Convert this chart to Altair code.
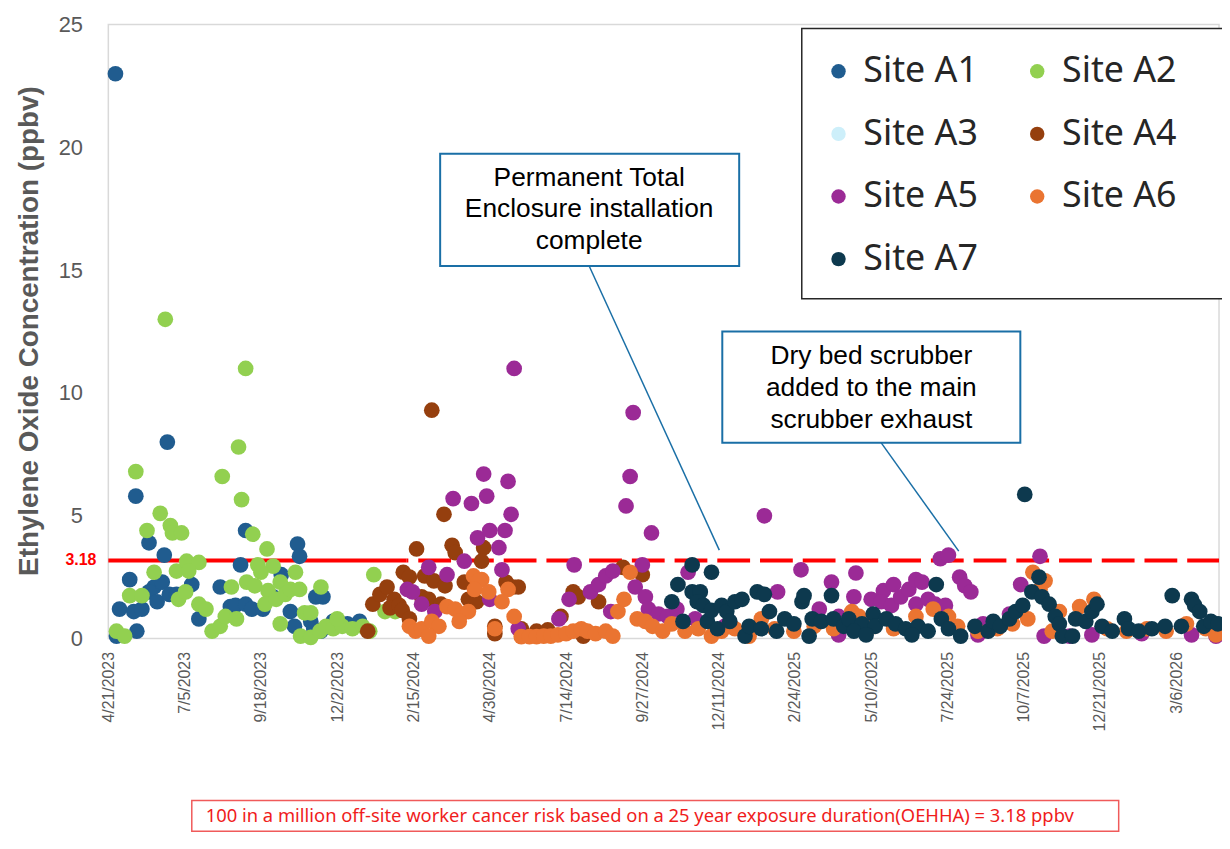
import altair as alt
import pandas as pd

# ---------------- data ----------------
start_date = "2023-04-21"
end_date = "2026-04-17"
solid_until = "2024-02-08"   # the red limit line is drawn solid up to here, dashed after
threshold = 3.18

tick_labels = ["4/21/2023", "7/5/2023", "9/18/2023", "12/2/2023", "2/15/2024",
               "4/30/2024", "7/14/2024", "9/27/2024", "12/11/2024", "2/24/2025",
               "5/10/2025", "7/24/2025", "10/7/2025", "12/21/2025", "3/6/2026"]

sites = ["Site A1", "Site A2", "Site A3", "Site A4", "Site A5", "Site A6", "Site A7"]
site_colors = ["#205C8F", "#92D050", "#CDEFFA", "#953F0E", "#9B2A96", "#EA7431", "#0D394E"]

a1_days = [7, 8, 11, 21, 25, 27, 28, 40, 45, 53, 40, 33, 48, 60, 67, 55, 58, 82, 89, 110,
           120, 125, 135, 130, 135, 141, 152, 162, 170, 179, 186, 188, 183, 199, 204, 209,
           211, 221, 235, 247, 202]
a1_vals = [23.0, 0.1, 1.2, 2.4, 1.1, 5.8, 0.3, 3.9, 2.1, 2.3, 1.9, 1.2, 1.5, 1.8, 1.8, 3.4,
           8.0, 2.2, 0.8, 2.1, 1.3, 1.35, 1.4, 3.0, 4.4, 1.2, 1.2, 1.7, 2.6, 1.1, 3.85, 3.35,
           0.5, 0.7, 1.7, 0.3, 1.7, 0.7, 0.6, 0.7, 0.4]

a2_days = [8, 16, 21, 33, 27, 38, 45, 51, 56, 61, 63, 72, 67, 77, 89, 79, 69, 76, 89, 96,
           102, 110, 115, 126, 112, 121, 128, 131, 135, 142, 156, 147, 162, 150, 136, 144,
           157, 169, 184, 154, 165, 174, 179, 188, 169, 193, 199, 189, 199, 208, 214, 209,
           221, 230, 240, 250, 261, 272, 282, 225, 257]
a2_vals = [0.3, 0.1, 1.75, 1.75, 6.8, 4.4, 2.7, 5.1, 13.0, 4.6, 4.3, 4.3, 2.75, 3.15, 3.1,
           2.75, 1.6, 1.9, 1.4, 1.2, 0.3, 0.5, 0.9, 0.8, 6.6, 2.1, 7.8, 5.66, 11.0, 4.25,
           3.65, 3.0, 2.95, 2.7, 2.3, 2.15, 1.95, 2.3, 2.7, 1.4, 1.6, 1.8, 2.0, 2.0, 0.6,
           1.05, 1.05, 0.1, 0.05, 0.3, 0.5, 2.1, 0.4, 0.5, 0.4, 0.5, 2.6, 1.1, 1.1, 0.8, 0.3]

a3_days = []
a3_vals = []

a4_days = [255, 260, 267, 274, 281, 277, 286, 289, 290, 296, 296, 303, 308, 315, 311, 318,
           320, 331, 330, 338, 341, 350, 354, 362, 369, 367, 380, 380, 391, 398, 403, 406,
           421, 432, 445, 457, 462, 467, 482, 506, 525, 327]
a4_vals = [0.3, 1.4, 1.8, 2.1, 1.6, 1.25, 1.35, 1.15, 2.7, 2.5, 0.8, 3.65, 1.7, 1.6, 2.55,
           9.3, 2.35, 2.15, 5.06, 3.8, 3.5, 2.3, 1.6, 1.5, 3.7, 3.15, 0.5, 0.2, 2.3, 2.1,
           2.1, 0.4, 0.3, 0.35, 0.9, 1.9, 1.7, 0.1, 1.5, 2.9, 2.6, 1.4]

a5_days = [294, 299, 308, 315, 321, 333, 339, 350, 357, 363, 369, 372, 375, 375, 384, 387,
           390, 393, 396, 399, 403, 443, 453, 458, 474, 482, 489, 496, 494, 509, 513, 516,
           518, 525, 528, 534, 531, 541, 550, 559, 570, 577, 606, 645, 658, 681, 699, 711,
           718, 733, 735, 750, 762, 772, 760, 770, 779, 787, 794, 794, 800, 806, 813, 818,
           826, 823, 837, 842, 848, 860, 886, 897, 916, 920, 945, 967, 1016, 1065, 1089,
           855, 718]
a5_vals = [2.0, 1.9, 1.4, 2.9, 1.1, 2.6, 5.7, 3.15, 5.5, 4.1, 6.7, 5.8, 4.4, 1.6, 3.7, 2.8,
           4.4, 6.4, 5.06, 11.0, 0.4, 0.8, 1.6, 3.0, 1.9, 2.2, 2.55, 2.75, 1.1, 5.4, 6.6, 9.2,
           2.1, 3.0, 1.7, 4.3, 1.2, 1.0, 0.9, 1.2, 2.7, 0.8, 0.5, 5.0, 1.9, 2.8, 1.2, 2.3,
           0.9, 1.7, 2.67, 1.6, 1.95, 2.2, 1.5, 1.35, 1.7, 2.0, 1.4, 2.4, 2.3, 1.6, 1.4, 3.25,
           3.4, 1.35, 2.5, 2.15, 1.9, 0.6, 1.0, 2.2, 3.35, 0.1, 0.1, 0.15, 0.2, 0.15, 0.1,
           0.15, 0.15]

a6_days = [296, 302, 308, 318, 325, 315, 333, 341, 347, 354, 345, 359, 367, 364, 360, 374,
           393, 387, 380, 399, 406, 414, 421, 428, 435, 442, 450, 457, 465, 471, 479, 489,
           496, 501, 507, 513, 520, 528, 535, 545, 554, 567, 580, 593, 603, 616, 630, 642,
           655, 674, 694, 713, 731, 738, 753, 772, 794, 811, 826, 835, 855, 874, 889, 904,
           909, 921, 916, 928, 935, 955, 969, 982, 1001, 1021, 1040, 1060, 1079, 1089]
a6_vals = [0.5, 0.3, 0.4, 0.7, 0.5, 0.1, 1.3, 1.2, 1.0, 1.1, 0.7, 2.55, 2.4, 2.35, 2.0, 1.9,
           2.0, 1.5, 0.4, 0.9, 0.08, 0.08, 0.08, 0.1, 0.1, 0.15, 0.2, 0.3, 0.4, 0.3, 0.2, 0.3,
           0.1, 1.1, 1.6, 2.7, 0.8, 0.7, 0.5, 0.3, 0.6, 0.3, 0.4, 0.1, 0.3, 0.4, 0.1, 0.8,
           0.4, 0.3, 0.5, 0.4, 1.1, 0.9, 0.5, 0.4, 0.9, 1.2, 0.9, 0.5, 0.3, 0.4, 0.6, 0.8,
           2.7, 2.35, 2.0, 0.3, 1.1, 1.3, 1.6, 0.4, 0.3, 0.4, 0.3, 0.6, 0.4, 0.15]

a7_days = [554, 560, 565, 574, 574, 582, 579, 585, 589, 593, 593, 599, 603, 608, 611, 616,
           623, 626, 630, 638, 645, 642, 650, 657, 665, 674, 682, 684, 689, 692, 701, 711,
           713, 723, 728, 741, 752, 754, 765, 774, 784, 796, 806, 814, 819, 826, 838, 852,
           865, 870, 877, 886, 892, 899, 901, 908, 915, 918, 925, 931, 935, 938, 948, 951,
           961, 967, 972, 977, 987, 999, 1003, 1013, 1026, 1039, 1046, 1055, 1065, 1068,
           1073, 1077, 1084, 1091, 733, 745, 790]
a7_vals = [1.5, 2.2, 0.7, 3.0, 1.9, 1.9, 1.5, 1.35, 0.7, 2.7, 1.15, 0.4, 1.35, 1.1, 0.7, 1.5,
           1.6, 0.1, 0.5, 1.9, 1.8, 0.4, 1.1, 0.3, 0.8, 0.6, 1.5, 1.75, 0.1, 0.8, 0.7, 1.75,
           0.8, 0.5, 0.8, 0.6, 1.0, 0.5, 0.8, 0.6, 0.4, 0.5, 0.3, 2.2, 0.8, 0.4, 0.1, 0.5,
           0.3, 0.7, 0.5, 0.8, 1.1, 1.35, 5.87, 1.9, 2.5, 1.7, 1.4, 0.9, 0.6, 0.1, 0.1, 0.8,
           0.7, 1.1, 1.4, 0.5, 0.3, 0.8, 0.4, 0.3, 0.4, 0.5, 1.75, 0.5, 1.6, 1.35, 1.1, 0.5,
           0.7, 0.6, 0.3, 0.15, 0.15]

note_text = ("100 in a million off-site worker cancer risk based on a 25 year exposure "
             "duration(OEHHA) = 3.18 ppbv")
box1_text = "Permanent Total\nEnclosure installation\ncomplete"
box2_text = "Dry bed scrubber\nadded to the main\nscrubber exhaust"
y_title = "Ethylene Oxide Concentration (ppbv)"

# ---------------- build tables ----------------
series = [(sites[0], a1_days, a1_vals), (sites[1], a2_days, a2_vals),
          (sites[2], a3_days, a3_vals), (sites[3], a4_days, a4_vals),
          (sites[4], a5_days, a5_vals), (sites[5], a6_days, a6_vals),
          (sites[6], a7_days, a7_vals)]

base_day = pd.Timestamp(start_date)
frames = []
for site, days, vals in series:
    if not days:
        continue
    dates = [(base_day + pd.Timedelta(days=int(d))).strftime("%Y-%m-%d") for d in days]
    frames.append(pd.DataFrame({"site": [site] * len(days), "date": dates, "value": vals}))
points = pd.concat(frames, ignore_index=True)


def dt_iso(s):
    y, m, d = (int(p) for p in s.split("-"))
    return alt.DateTime(year=y, month=m, date=d, utc=True)


def dt_us(s):
    m, d, y = (int(p) for p in s.split("/"))
    return alt.DateTime(year=y, month=m, date=d, utc=True)


GREY = "#595959"
BLUE_BOX = "#1A6FA6"
FONT = "Liberation Sans"

x_enc = alt.X(
    "date:T",
    title=None,
    scale=alt.Scale(type="utc", domain=[dt_iso(start_date), dt_iso(end_date)]),
    axis=alt.Axis(values=[dt_us(t) for t in tick_labels],
                  labelExpr="utcFormat(datum.value, '%-m/%-d/%Y')",
                  labelAngle=-90, labelFontSize=16, labelColor=GREY, labelFont=FONT,
                  labelPadding=13, labelFlush=False, labelOverlap=False, labelBound=False,
                  grid=False, domain=False, ticks=False, tickSize=0, title=None),
)
y_enc = alt.Y(
    "value:Q",
    scale=alt.Scale(domain=[0, 25], nice=False),
    axis=alt.Axis(values=[0, 5, 10, 15, 20, 25], grid=False, domain=False, ticks=False,
                  tickSize=0, labelFontSize=22, labelColor=GREY, labelFont=FONT,
                  labelPadding=26, title=y_title, titleFontSize=28, titleFontWeight="bold",
                  titleColor=GREY, titleFont=FONT, titleAngle=-90, titleX=-79, titleY=308,
                  titleAlign="center", titleBaseline="middle"),
)

one = pd.DataFrame({"k": [0]})

legend_box = alt.Chart(one).mark_rect(fill="white", stroke="#262626", strokeWidth=1.5).encode(
    x=alt.value(698), x2=alt.value(1150), y=alt.value(4), y2=alt.value(276))

thr_solid = alt.Chart(pd.DataFrame({"date": [start_date], "date2": [solid_until],
                                    "value": [threshold]})).mark_rule(
    color="#ff0000", strokeWidth=4).encode(x=x_enc, x2=alt.X2("date2", title=None), y=y_enc)
thr_dash = alt.Chart(pd.DataFrame({"date": [solid_until], "date2": [end_date],
                                   "value": [threshold]})).mark_rule(
    color="#ff0000", strokeWidth=4, strokeDash=[33, 10], strokeDashOffset=-12).encode(
    x=x_enc, x2=alt.X2("date2", title=None), y=y_enc)

pts = alt.Chart(points).mark_circle(size=250, opacity=1).encode(
    x=x_enc, y=y_enc,
    color=alt.Color("site:N", scale=alt.Scale(domain=sites, range=site_colors),
                    legend=alt.Legend(orient="none", legendX=695, legendY=7, columns=2,
                                      direction="horizontal",
                                      title=None, symbolType="circle", symbolSize=210,
                                      symbolStrokeWidth=0, symbolOpacity=1,
                                      labelFontSize=36, labelFont="Noto Sans",
                                      labelColor="#262626", labelOffset=7,
                                      columnPadding=41, rowPadding=27, padding=22,
                                      labelLimit=0)),
)

thr_label = alt.Chart(pd.DataFrame({"value": [threshold], "label": [f"{threshold:.2f}"]})).mark_text(
    align="right", baseline="middle", color="#ff0000", fontSize=16, fontWeight="bold",
    font=FONT).encode(x=alt.value(-12), y=y_enc, text="label:N")

box1 = alt.Chart(one).mark_rect(fill="white", stroke=BLUE_BOX, strokeWidth=2).encode(
    x=alt.value(334), x2=alt.value(635), y=alt.value(130), y2=alt.value(243))
box1_txt = alt.Chart(pd.DataFrame({"label": [box1_text]})).mark_text(
    fontSize=26.5, font=FONT, lineBreak="\n", lineHeight=32, align="center",
    baseline="middle", color="black").encode(x=alt.value(484), y=alt.value(154), text="label:N")
lead1 = alt.Chart(one).mark_rule(color=BLUE_BOX, strokeWidth=1.5).encode(
    x=alt.value(484), y=alt.value(243), x2=alt.value(615), y2=alt.value(529))

box2 = alt.Chart(one).mark_rect(fill="white", stroke=BLUE_BOX, strokeWidth=2).encode(
    x=alt.value(618), x2=alt.value(918), y=alt.value(309), y2=alt.value(421))
box2_txt = alt.Chart(pd.DataFrame({"label": [box2_text]})).mark_text(
    fontSize=26.5, font=FONT, lineBreak="\n", lineHeight=32, align="center",
    baseline="middle", color="black").encode(x=alt.value(768), y=alt.value(334), text="label:N")
lead2 = alt.Chart(one).mark_rule(color=BLUE_BOX, strokeWidth=1.5).encode(
    x=alt.value(778), y=alt.value(421), x2=alt.value(856), y2=alt.value(530))

note_box = alt.Chart(one).mark_rect(fill="white", stroke="#f05a5a", strokeWidth=1.5).encode(
    x=alt.value(84), x2=alt.value(1017), y=alt.value(781), y2=alt.value(812))
note_txt = alt.Chart(pd.DataFrame({"label": [note_text]})).mark_text(
    fontSize=18.5, font="Noto Sans", align="left", baseline="middle", color="#f01c1c").encode(
    x=alt.value(98), y=alt.value(797), text="label:N")

chart = alt.layer(
    legend_box, thr_solid, thr_dash, pts, thr_label,
    lead1, lead2, box1, box1_txt, box2, box2_txt, note_box, note_txt,
).properties(
    width=1118, height=618,
    padding={"left": 101, "top": 14, "right": 3, "bottom": 196},
    autosize=alt.AutoSizeParams(type="none"),
    background="white",
).configure_view(stroke="#d9d9d9", strokeWidth=1.5)

chart.save("out.html", embed_options={"renderer": "svg", "actions": False})
